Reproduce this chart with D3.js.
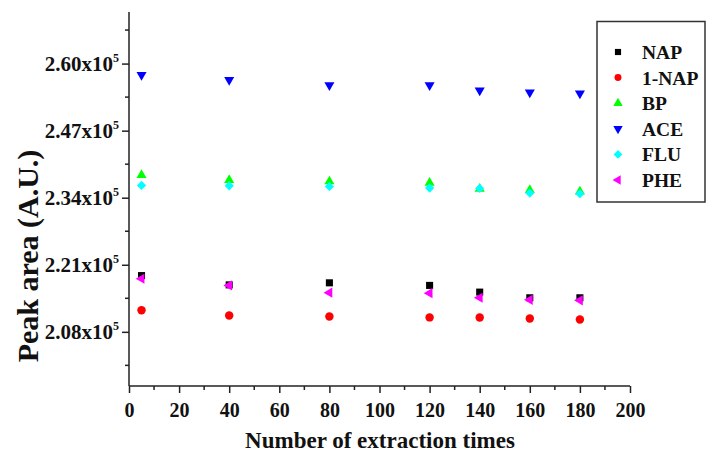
<!DOCTYPE html>
<html>
<head>
<meta charset="utf-8">
<script src="https://cdn.jsdelivr.net/npm/d3@7"></script>
<style>
  body { margin: 0; background: white; }
  text { font-family: "Liberation Serif", "Times New Roman", serif; font-weight: bold; fill: #111; }
</style>
</head>
<body>
<div id="chart"></div>
<script>
// extraction times (x) and peak areas for each compound
const extractionTimes = [5, 40, 80, 120, 140, 160, 180]
const napValues   = [218900, 217100, 217500, 217000, 215700, 214600, 214600]
const oneNapValues = [212200, 211150, 210960, 210800, 210760, 210570, 210380]
const bpValues    = [238400, 237400, 237150, 236900, 235700, 235500, 235200]
const aceValues   = [257800, 256850, 255800, 255800, 254800, 254400, 254200]
const fluValues   = [236380, 236300, 236180, 235870, 235800, 234900, 234770]
const pheValues   = [218300, 217000, 215600, 215500, 214600, 214200, 214100]

const seriesNames = ["NAP", "1-NAP", "BP", "ACE", "FLU", "PHE"]
const seriesColors = ["#000000", "#ff0000", "#00ff00", "#0000ff", "#00ffff", "#ff00ff"]

const yTicks = [208000, 221000, 234000, 247000, 260000]
const yTickLabels = ["2.08", "2.21", "2.34", "2.47", "2.60"]
const yMinorTicks = [201500, 214500, 227500, 240500, 253500, 266500]
const xTicks = [0, 20, 40, 60, 80, 100, 120, 140, 160, 180, 200]
const xMinorTicks = [10, 30, 50, 70, 90, 110, 130, 150, 170, 190]

const width = 707
const height = 456

const seriesValues = [napValues, oneNapValues, bpValues, aceValues, fluValues, pheValues]

const svg = d3.select("#chart")
              .append("svg")
              .attr("width", width)
              .attr("height", height)

const xScale = d3.scaleLinear()
                 .domain([0, 200])
                 .range([129, 630])

const yScale = d3.scaleLinear()
                 .domain([197500, 270000])
                 .range([386, 12])

// marker shapes, in the order of the series
const symbolFor = (i, size) => {
  const types = [d3.symbolSquare, d3.symbolCircle, d3.symbolTriangle, d3.symbolTriangle, d3.symbolSquare, d3.symbolTriangle]
  const sizes = [50, 56, 44, 44, 42, 44]
  return d3.symbol().type(types[i]).size(size || sizes[i])()
}
const rotations = [0, 0, 0, 180, 45, -90]

// axes
const xAxis = d3.axisBottom(xScale)
                .tickValues(xTicks)
                .tickSize(7)
                .tickFormat(d => d)

const xAxisG = svg.append("g")
                  .attr("transform", "translate(0,386)")
                  .call(xAxis)

xAxisG.select(".domain").attr("stroke", "#222").attr("stroke-width", 1.5)
      .attr("d", "M129,0H630")
xAxisG.selectAll(".tick line").attr("stroke", "#222").attr("stroke-width", 1.5)
xAxisG.selectAll(".tick text")
      .attr("y", 31)
      .attr("dy", null)
      .style("font-size", "20px")

xAxisG.selectAll(".minor")
      .data(xMinorTicks)
      .enter()
      .append("line")
      .attr("class", "minor")
      .attr("x1", d => xScale(d))
      .attr("x2", d => xScale(d))
      .attr("y1", 0)
      .attr("y2", 4)
      .attr("stroke", "#222")
      .attr("stroke-width", 1.5)

const yAxis = d3.axisLeft(yScale)
                .tickValues(yTicks)
                .tickSize(7)
                .tickFormat("")

const yAxisG = svg.append("g")
                  .attr("transform", "translate(129,0)")
                  .call(yAxis)

yAxisG.select(".domain").attr("stroke", "#222").attr("stroke-width", 1.5)
      .attr("d", "M0,12V386")
yAxisG.selectAll(".tick line").attr("stroke", "#222").attr("stroke-width", 1.5)

yAxisG.selectAll(".minor")
      .data(yMinorTicks)
      .enter()
      .append("line")
      .attr("class", "minor")
      .attr("x1", -4)
      .attr("x2", 0)
      .attr("y1", d => yScale(d))
      .attr("y2", d => yScale(d))
      .attr("stroke", "#222")
      .attr("stroke-width", 1.5)

const yLabels = svg.append("g")
                   .selectAll("text")
                   .data(yTicks)
                   .enter()
                   .append("text")
                   .attr("x", 119)
                   .attr("y", d => yScale(d) + 7)
                   .attr("text-anchor", "end")
                   .style("font-size", "21px")

yLabels.append("tspan")
       .text((d, i) => yTickLabels[i] + "x10")
yLabels.append("tspan")
       .attr("dy", -9)
       .style("font-size", "12px")
       .text("5")

// axis titles
svg.append("text")
   .attr("x", 380)
   .attr("y", 448)
   .attr("text-anchor", "middle")
   .style("font-size", "23px")
   .text("Number of extraction times")

svg.append("text")
   .attr("transform", "translate(38,256) rotate(-90)")
   .attr("text-anchor", "middle")
   .style("font-size", "30px")
   .text("Peak area (A.U.)")

// points
seriesValues.forEach((values, i) => {
  svg.append("g")
     .selectAll("path")
     .data(values)
     .enter()
     .append("path")
     .attr("d", symbolFor(i))
     .attr("transform", (d, j) => `translate(${xScale(extractionTimes[j])},${yScale(d)}) rotate(${rotations[i]})`)
     .attr("fill", seriesColors[i])
})

// legend
const legend = svg.append("g")

legend.append("rect")
      .attr("x", 597)
      .attr("y", 21.5)
      .attr("width", 108)
      .attr("height", 180.5)
      .attr("fill", "white")
      .attr("stroke", "#333")
      .attr("stroke-width", 1.5)

const legendRows = legend.selectAll(".row")
                         .data(seriesNames)
                         .enter()
                         .append("g")
                         .attr("class", "row")
                         .attr("transform", (d, i) => `translate(0,${52 + i * 25.6})`)

legendRows.append("path")
          .attr("d", (d, i) => symbolFor(i, 38))
          .attr("transform", (d, i) => `translate(618,0) rotate(${rotations[i]})`)
          .attr("fill", (d, i) => seriesColors[i])

legendRows.append("text")
          .attr("x", 642)
          .attr("y", 7)
          .style("font-size", "19.5px")
          .text(d => d)
</script>
</body>
</html>
